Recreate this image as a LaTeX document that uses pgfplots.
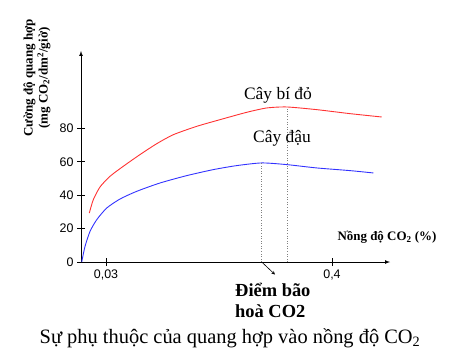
\documentclass[border=0pt]{standalone}
\usepackage{pgfplots}
\pgfplotsset{compat=1.18}
\usepackage{fontspec}
\setmainfont{Liberation Serif}
\newfontfamily\arial{Liberation Sans}
\definecolor{cred}{RGB}{255,50,50}
\definecolor{cblue}{RGB}{50,50,255}
\begin{document}
\begin{tikzpicture}[x=1bp,y=1bp]
\useasboundingbox (0,0) rectangle (462,356);
\begin{axis}[
  at={(81bp,94bp)}, anchor=south west,
  scale only axis, width=309bp, height=211bp,
  xmin=0, xmax=309, ymin=0, ymax=126.3,
  axis lines=left,
  axis line style={-latex, line width=0.7pt},
  xtick={25,251}, xticklabels={{0,03},{0,4}},
  ytick={0,20,40,60,80},
  tick align=center, major tick length=8bp,
  tick style={black, line width=0.7pt},
  ticklabel style={font=\arial\fontsize{12.5}{14}\selectfont},
  /pgf/number format/assume math mode=true,
  clip=false,
]
\addplot[cblue, line width=0.9pt, smooth, tension=0.4] coordinates {
(0.7,0) (4,9.3) (9,18.3) (15.7,25.3) (25.7,32.3) (39,37.7) (55.7,42.3) (79,47.3) (105.7,51.7) (132.3,55.3) (155.7,57.7) (180.7,59.3) (205.7,58.3) (235.7,56.3) (269,54.7) (292.3,53.3)};
\addplot[cred, line width=0.9pt, smooth, tension=0.4] coordinates {
(8.3,29.3) (12.3,37.3) (19,44.9) (29,51.3) (42.3,57.3) (59,64.3) (75.7,70.8) (92.3,76.2) (115.7,81.2) (139,85.2) (165.7,89.6) (185.7,92.2) (205.7,92.8) (235.7,91.2) (269,88.8) (300.7,86.8)};
\draw[dotted, gray, line width=0.6pt] (axis cs:180.7,0) -- (axis cs:180.7,59.3);
\draw[dotted, gray, line width=0.6pt] (axis cs:206.3,0) -- (axis cs:206.3,92.8);
\draw[-stealth, line width=0.6pt] (axis cs:180.7,0) -- (axis cs:194,-7.5);
\end{axis}
\node[font=\fontsize{17.5}{19}\selectfont] at (278,261) {Cây bí đỏ};
\node[font=\fontsize{17.5}{19}\selectfont] at (282,218) {Cây đậu};
\node[font=\bfseries\fontsize{13}{15}\selectfont] at (387,119) {Nồng độ CO\textsubscript{2} (\%)};
\node[anchor=north west, align=left, inner sep=0pt, font=\bfseries\fontsize{18.5}{21}\selectfont] at (235,73) {Điểm bão\\hoà CO2};
\node[font=\fontsize{20.5}{22}\selectfont] at (230,18) {Sự phụ thuộc của quang hợp vào nồng độ CO\textsubscript{2}};
\node[rotate=90, align=center, font=\bfseries\fontsize{13}{15}\selectfont] at (37,278) {Cường độ quang hợp\\(mg CO\textsubscript{2}/dm\textsuperscript{2}/giờ)};
\end{tikzpicture}
\end{document}
